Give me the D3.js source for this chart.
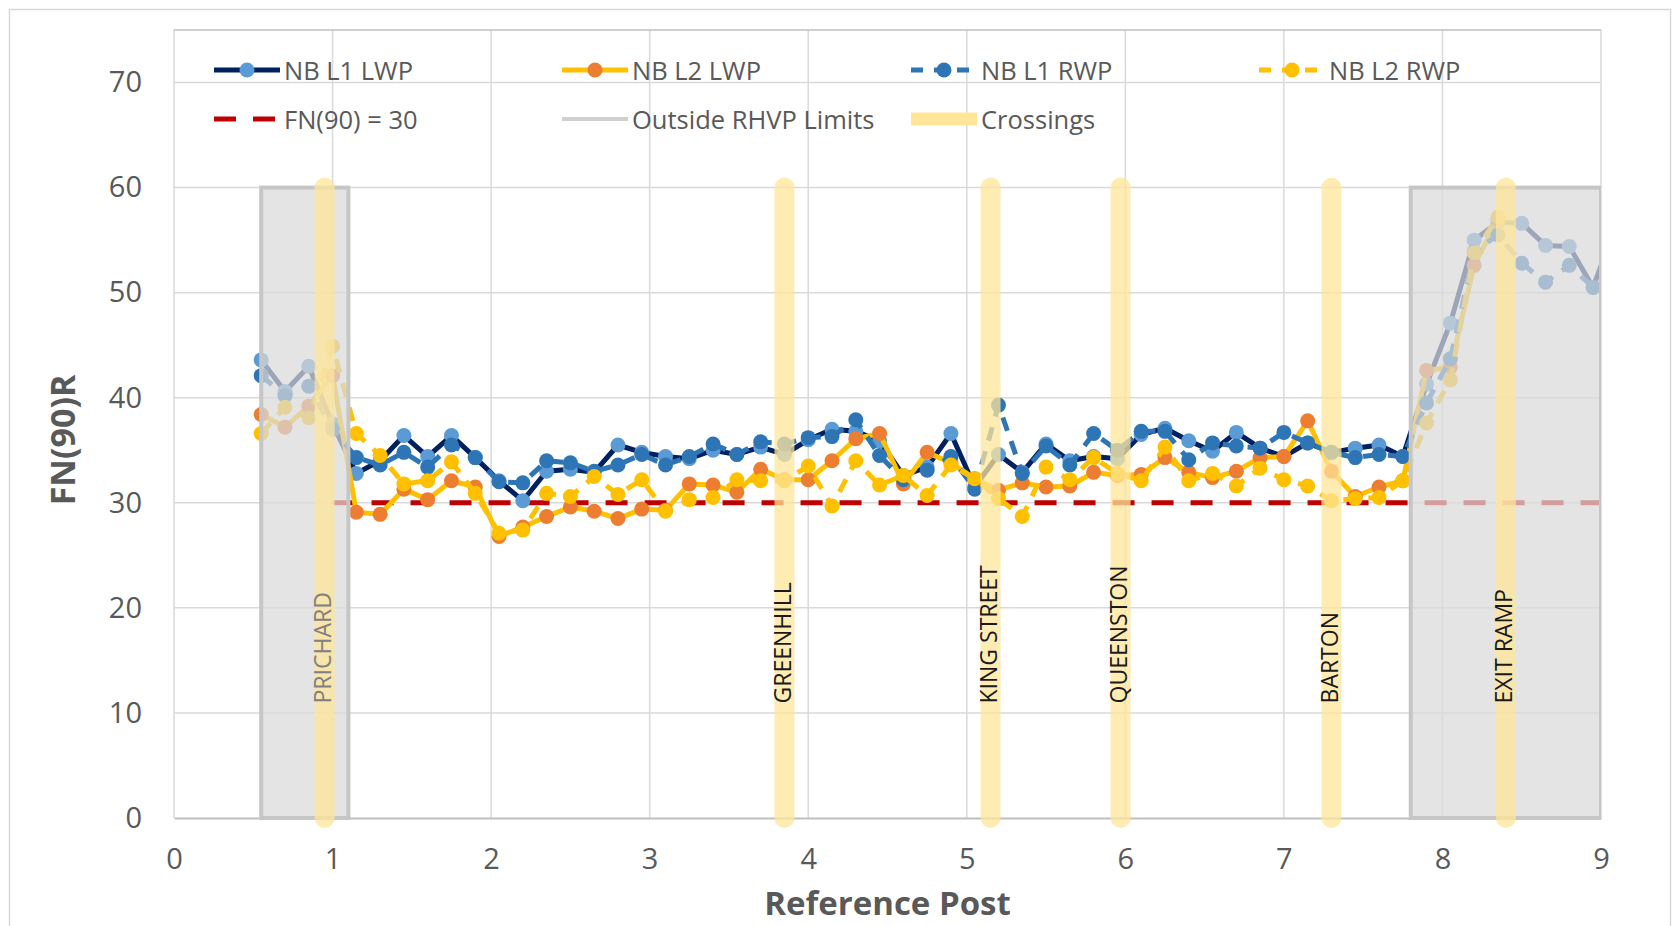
<!DOCTYPE html>
<html>
<head>
<meta charset="utf-8">
<script src="https://cdn.jsdelivr.net/npm/d3@7"></script>
<style>
  body { margin: 0; background: #fff; }
  svg text { font-family: "Open Sans", "Liberation Sans", sans-serif; }
</style>
</head>
<body>
<div id="dataviz"></div>
<script>
// reference posts (x) for every sample
var refPost = [0.55,0.70,0.85,1.00,1.15,1.30,1.45,1.60,1.75,1.90,2.05,2.20,2.35,2.50,2.65,2.80,2.95,3.10,3.25,3.40,
  3.55,3.70,3.85,4.00,4.15,4.30,4.45,4.60,4.75,4.90,5.05,5.20,5.35,5.50,5.65,5.80,5.95,6.10,6.25,6.40,
  6.55,6.70,6.85,7.00,7.15,7.30,7.45,7.60,7.75,7.90,8.05,8.20,8.35,8.50,8.65,8.80,8.95,9.10];

// FN(90)R values
var l1Lwp = [43.6,40.6,43.0,37.5,32.8,34.0,36.4,34.4,36.4,34.3,32.1,30.2,33.0,33.2,32.9,35.5,34.8,34.4,34.2,35.0,
  34.6,35.3,34.6,36.0,37.0,36.8,35.9,32.6,33.4,36.6,31.5,34.6,32.9,35.6,34.0,34.4,34.2,36.5,37.1,35.9,
  34.9,36.7,35.2,34.4,35.7,34.8,35.2,35.5,34.4,41.3,47.1,55.0,56.7,56.6,54.5,54.4,50.5,56.7];
var l2Lwp = [38.4,37.2,39.2,42.1,29.1,28.9,31.3,30.3,32.1,31.5,26.8,27.7,28.7,29.6,29.2,28.5,29.4,29.3,31.8,31.7,
  31.0,33.2,32.2,32.2,34.0,36.1,36.6,31.8,34.8,33.8,32.3,31.2,31.9,31.5,31.6,32.9,32.6,32.7,34.3,32.9,
  32.4,33.0,34.3,34.4,37.8,33.0,30.6,31.5,32.1,42.6,42.9,52.6,57.0];
var l1Rwp = [42.1,40.2,41.1,37.0,34.3,33.6,34.8,33.4,35.5,34.3,32.0,31.9,34.0,33.8,33.0,33.6,34.6,33.6,34.4,35.6,
  34.6,35.8,35.6,36.2,36.3,37.9,34.5,32.2,33.1,34.4,31.3,39.3,32.8,35.4,33.6,36.6,35.0,36.8,36.8,34.1,
  35.7,35.4,35.2,36.7,35.7,34.8,34.3,34.6,34.4,39.5,43.7,53.9,55.5,52.8,51.0,52.6,50.5];
var l2Rwp = [36.6,39.1,38.1,44.9,36.6,34.5,31.8,32.1,33.9,30.9,27.1,27.4,30.9,30.6,32.5,30.8,32.2,29.2,30.3,30.5,
  32.2,32.1,32.1,33.5,29.7,34.0,31.7,32.6,30.7,33.6,32.3,30.4,28.7,33.4,32.2,34.3,32.8,32.1,35.3,32.1,
  32.8,31.6,33.3,32.2,31.6,30.2,30.4,30.5,32.1,37.6,41.7,53.8,57.2];

var threshold = 30;
var thresholdFrom = 1.0, thresholdTo = 9.0;

var outsideLimits = [[0.55, 1.10], [7.80, 9.00]];
var outsideTop = 60;

var crossingPosts = [0.95, 3.85, 5.15, 5.97, 7.30, 8.40];
var crossingNames = ["PRICHARD", "GREENHILL", "KING STREET", "QUEENSTON", "BARTON", "EXIT RAMP"];
var crossingTop = 60;
var crossingLabelAt = 10.9;

var xTicks = [0,1,2,3,4,5,6,7,8,9];
var yTicks = [0,10,20,30,40,50,60,70];

var W = 1680, H = 926;
var margin = {top: 30, right: 79, bottom: 108, left: 174};
var width = W - margin.left - margin.right;
var height = H - margin.top - margin.bottom;

var svgRoot = d3.select("#dataviz").append("svg")
    .attr("width", W)
    .attr("height", H);

// chart frame
svgRoot.append("rect")
    .attr("x", 9.5).attr("y", 9.5)
    .attr("width", W - 19).attr("height", H + 40)
    .attr("fill", "none")
    .attr("stroke", "#d9d9d9")
    .attr("stroke-width", 1.5);

var svg = svgRoot.append("g")
    .attr("transform", "translate(" + margin.left + "," + margin.top + ")");

var x = d3.scaleLinear().domain([0, 9]).range([0, width]);
var y = d3.scaleLinear().domain([0, 75]).range([height, 0]);

svg.append("defs").append("clipPath").attr("id", "plotClip")
  .append("rect").attr("x", 0).attr("y", -20).attr("width", width).attr("height", height + 40);

// gridlines
svg.append("g").selectAll("line").data(yTicks.slice(1)).enter().append("line")
    .attr("x1", 0).attr("x2", width)
    .attr("y1", function(d){ return y(d); }).attr("y2", function(d){ return y(d); })
    .attr("stroke", "#d9d9d9").attr("stroke-width", 1.5);
svg.append("g").selectAll("line").data(xTicks).enter().append("line")
    .attr("x1", function(d){ return x(d); }).attr("x2", function(d){ return x(d); })
    .attr("y1", 0).attr("y2", height)
    .attr("stroke", "#d9d9d9").attr("stroke-width", 1.5);
// top border of plot area
svg.append("line").attr("x1", 0).attr("x2", width).attr("y1", 0).attr("y2", 0)
    .attr("stroke", "#bfbfbf").attr("stroke-width", 1.5);

// axes (labels only, Excel style)
var xAxis = svg.append("g")
    .attr("transform", "translate(0," + height + ")")
    .call(d3.axisBottom(x).tickValues(xTicks).tickSize(0).tickPadding(30).tickFormat(d3.format("d")));
xAxis.select(".domain").attr("stroke", "#bfbfbf").attr("stroke-width", 2);
xAxis.selectAll("text").attr("font-size", 29).attr("fill", "#595959")
    .style("font-family", "'Open Sans', sans-serif");

var yAxis = svg.append("g")
    .call(d3.axisLeft(y).tickValues(yTicks).tickSize(0).tickPadding(32).tickFormat(d3.format("d")));
yAxis.select(".domain").remove();
yAxis.selectAll("text").attr("font-size", 29).attr("fill", "#595959")
    .style("font-family", "'Open Sans', sans-serif");

// axis titles
svg.append("text")
    .attr("x", width / 2).attr("y", height + 97)
    .attr("text-anchor", "middle")
    .attr("font-size", 33).attr("font-weight", "bold").attr("fill", "#595959")
    .text("Reference Post");
svg.append("text")
    .attr("transform", "translate(" + (66 - margin.left) + "," + (440 - margin.top) + ") rotate(-90)")
    .attr("text-anchor", "middle").attr("dominant-baseline", "middle")
    .attr("font-size", 34).attr("font-weight", "bold").attr("fill", "#595959")
    .text("FN(90)R");

var plot = svg.append("g").attr("clip-path", "url(#plotClip)");

// FN(90) = 30 line
plot.append("line")
    .attr("x1", x(thresholdFrom)).attr("x2", x(thresholdTo))
    .attr("y1", y(threshold)).attr("y2", y(threshold))
    .attr("stroke", "#c00000").attr("stroke-width", 5)
    .attr("stroke-dasharray", "22,17");

function pts(vals) {
  return vals.map(function(v, i){ return {x: refPost[i], y: v}; });
}

var series = [
  {name: "NB L1 LWP", data: pts(l1Lwp), line: "#002060", marker: "#5b9bd5", dash: null},
  {name: "NB L2 LWP", data: pts(l2Lwp), line: "#ffc000", marker: "#ed7d31", dash: null},
  {name: "NB L1 RWP", data: pts(l1Rwp), line: "#2e75b6", marker: "#2e75b6", dash: "14,11"},
  {name: "NB L2 RWP", data: pts(l2Rwp), line: "#ffc000", marker: "#ffc000", dash: "14,11"}
];

var lineGen = d3.line()
    .x(function(d){ return x(d.x); })
    .y(function(d){ return y(d.y); });

series.forEach(function(s){
  var g = plot.append("g");
  g.append("path")
      .datum(s.data)
      .attr("d", lineGen)
      .attr("fill", "none")
      .attr("stroke", s.line)
      .attr("stroke-width", 5)
      .attr("stroke-linejoin", "round")
      .attr("stroke-dasharray", s.dash);
  g.selectAll("circle").data(s.data).enter().append("circle")
      .attr("cx", function(d){ return x(d.x); })
      .attr("cy", function(d){ return y(d.y); })
      .attr("r", 7.5)
      .attr("fill", s.marker);
});

// outside RHVP limits overlay
plot.selectAll(".outside").data(outsideLimits).enter().append("rect")
    .attr("class", "outside")
    .attr("x", function(d){ return x(d[0]); })
    .attr("y", y(outsideTop))
    .attr("width", function(d){ return x(d[1]) - x(d[0]); })
    .attr("height", y(0) - y(outsideTop))
    .attr("fill", "#d9d9d9").attr("fill-opacity", 0.72)
    .attr("stroke", "#c6c6c6").attr("stroke-width", 4);

// crossings
svg.selectAll(".crossing").data(crossingPosts).enter().append("line")
    .attr("class", "crossing")
    .attr("x1", function(d){ return x(d); }).attr("x2", function(d){ return x(d); })
    .attr("y1", y(0)).attr("y2", y(crossingTop))
    .attr("stroke", "#ffe699").attr("stroke-opacity", 0.75)
    .attr("stroke-width", 20).attr("stroke-linecap", "round");

svg.selectAll(".crossLabel").data(crossingPosts).enter().append("text")
    .attr("class", "crossLabel")
    .attr("transform", function(d){ return "translate(" + x(d) + "," + y(crossingLabelAt) + ") rotate(-90)"; })
    .attr("text-anchor", "start").attr("dominant-baseline", "middle")
    .attr("font-size", 23)
    .attr("fill", function(d, i){ return i === 0 ? "#808080" : "#1a1a1a"; })
    .text(function(d, i){ return crossingNames[i]; });

// legend
var legend = svg.append("g").attr("transform", "translate(" + (-margin.left) + "," + (-margin.top) + ")");
var legendItems = [
  {label: "NB L1 LWP", x: 214, y: 70, stroke: "#002060", width: 5, dash: null, marker: "#5b9bd5"},
  {label: "NB L2 LWP", x: 562, y: 70, stroke: "#ffc000", width: 5, dash: null, marker: "#ed7d31"},
  {label: "NB L1 RWP", x: 911, y: 70, stroke: "#2e75b6", width: 5, dash: "12,11", marker: "#2e75b6"},
  {label: "NB L2 RWP", x: 1259, y: 70, stroke: "#ffc000", width: 5, dash: "12,11", marker: "#ffc000"},
  {label: "FN(90) = 30", x: 214, y: 119, stroke: "#c00000", width: 5, dash: "22,17", marker: null},
  {label: "Outside RHVP Limits", x: 562, y: 119, stroke: "#d0d0d0", width: 4, dash: null, marker: null},
  {label: "Crossings", x: 911, y: 119, stroke: "#ffe699", width: 13, dash: null, marker: null}
];
var li = legend.selectAll(".li").data(legendItems).enter().append("g")
    .attr("transform", function(d){ return "translate(" + d.x + "," + d.y + ")"; });
li.append("line")
    .attr("x1", 0).attr("x2", 66).attr("y1", 0).attr("y2", 0)
    .attr("stroke", function(d){ return d.stroke; })
    .attr("stroke-width", function(d){ return d.width; })
    .attr("stroke-dasharray", function(d){ return d.dash; });
li.filter(function(d){ return d.marker; }).append("circle")
    .attr("cx", 33).attr("cy", 0).attr("r", 7.5)
    .attr("fill", function(d){ return d.marker; });
li.append("text")
    .attr("x", 70).attr("y", 0)
    .attr("dominant-baseline", "central")
    .attr("font-size", 25.5).attr("fill", "#595959")
    .text(function(d){ return d.label; });
</script>
</body>
</html>
